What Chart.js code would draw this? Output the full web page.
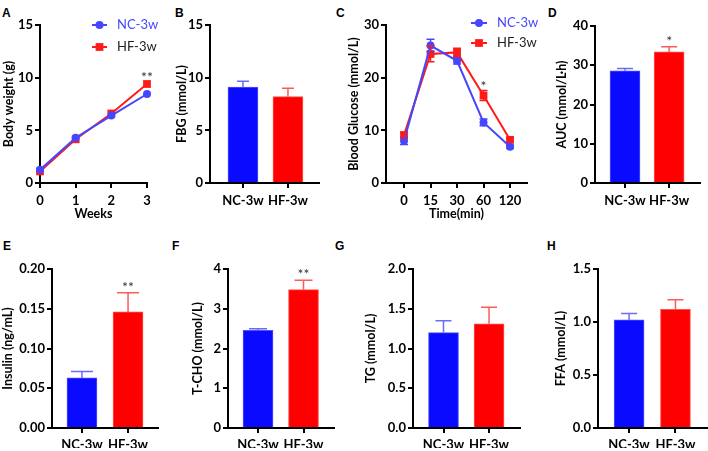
<!DOCTYPE html>
<html>
<head>
<meta charset="utf-8">
<script src="https://cdn.jsdelivr.net/npm/chart.js@4.4.1/dist/chart.umd.min.js"></script>
<style>
  html, body { margin: 0; padding: 0; background: #fff; }
  #wrap { position: relative; width: 708px; height: 451px; overflow: hidden; background: #fff; }
  #wrap canvas { position: absolute; left: 0; top: 0; }
  .lbl { position: absolute; font: bold 12px "Liberation Sans", Arial, sans-serif; line-height: 12px; color: #000; }
</style>
</head>
<body>
<div id="wrap">
  <div class="lbl" style="left:2px;top:7px">A</div>
  <div class="lbl" style="left:175px;top:7px">B</div>
  <div class="lbl" style="left:336px;top:7px">C</div>
  <div class="lbl" style="left:548px;top:7px">D</div>
  <div class="lbl" style="left:3px;top:240px">E</div>
  <div class="lbl" style="left:172px;top:240px">F</div>
  <div class="lbl" style="left:335px;top:240px">G</div>
  <div class="lbl" style="left:547px;top:240px">H</div>
</div>
<script>
// ---------------- DATA ----------------
const groups = ['NC-3w', 'HF-3w'];

// A: body weight
const weeks = [0, 1, 2, 3];
const bodyWeightNC = [1.25, 4.3, 6.4, 8.45];
const bodyWeightHF = [1.1, 4.15, 6.6, 9.4];
const bodyWeightSig = ['', '', '', '**'];

// B: fasting blood glucose
const fbg = [9.1, 8.2];
const fbgSD = [0.55, 0.8];
const fbgSig = ['', ''];

// C: OGTT
const ogttTimes = ['0', '15', '30', '60', '120'];
const glucoseNC = [8.0, 26.1, 23.2, 11.5, 6.9];
const glucoseNCsd = [0.7, 1.2, 0.6, 0.65, 0.3];
const glucoseHF = [9.1, 24.5, 24.8, 16.6, 8.2];
const glucoseHFsd = [0.5, 1.5, 0.8, 0.95, 0.35];
const glucoseSig = ['', '', '', '*', ''];

// D: AUC
const auc = [28.6, 33.4];
const aucSD = [0.6, 1.3];
const aucSig = ['', '*'];

// E: insulin
const insulin = [0.063, 0.146];
const insulinSD = [0.008, 0.024];
const insulinSig = ['', '**'];

// F: T-CHO
const tcho = [2.46, 3.48];
const tchoSD = [0.04, 0.24];
const tchoSig = ['', '**'];

// G: TG
const tg = [1.20, 1.31];
const tgSD = [0.15, 0.21];
const tgSig = ['', ''];

// H: FFA
const ffa = [1.02, 1.12];
const ffaSD = [0.06, 0.09];
const ffaSig = ['', ''];

// ---------------- STYLE ----------------
const FAMILY = 'Lato, "Open Sans", sans-serif';
const tickFont = { family: FAMILY, size: 13, weight: 'bold' };
const titleFont = { family: FAMILY, size: 12.5, weight: 'bold' };
const BLUE_LINE = '#4646ff';
const RED_LINE = '#ff1a1a';
const BLUE_BAR = '#0a0aff';
const RED_BAR = '#ff0000';
const BLUE_ERR = '#6b6bff';
const RED_ERR = '#ff5a5a';

const extrasPlugin = {
  id: 'extras',
  afterDatasetsDraw(chart, args, o) {
    if (!o) return;
    const ctx = chart.ctx, ys = chart.scales.y, area = chart.chartArea;
    ctx.save();
    (o.errors || []).forEach((e, di) => {
      if (!e) return;
      const ds = chart.data.datasets[di];
      const meta = chart.getDatasetMeta(di);
      meta.data.forEach((el, j) => {
        const v = ds.data[j].y, sd = e.sd[j];
        const col = Array.isArray(e.color) ? e.color[j] : e.color;
        const x = el.x;
        const yt = ys.getPixelForValue(v + sd);
        const yb = ys.getPixelForValue(e.both ? v - sd : v);
        const hw = e.cap / 2;
        ctx.strokeStyle = col;
        ctx.lineWidth = e.width || 1.5;
        ctx.beginPath();
        ctx.moveTo(x, yb); ctx.lineTo(x, yt);
        ctx.moveTo(x - hw, yt); ctx.lineTo(x + hw, yt);
        if (e.both) { ctx.moveTo(x - hw, yb); ctx.lineTo(x + hw, yb); }
        ctx.stroke();
      });
    });
    (o.sig || []).forEach((s, di) => {
      if (!s) return;
      const ds = chart.data.datasets[di];
      const meta = chart.getDatasetMeta(di);
      ctx.fillStyle = '#333';
      ctx.font = '14px ' + FAMILY;
      ctx.textAlign = 'center';
      ctx.textBaseline = 'alphabetic';
      s.labels.forEach((t, j) => {
        if (!t) return;
        const v = ds.data[j].y + (s.sd ? s.sd[j] : 0);
        const y = ys.getPixelForValue(v) - s.gap;
        ctx.fillText(t, meta.data[j].x, y);
      });
    });
    if (o.legend) {
      const L = o.legend;
      chart.data.datasets.forEach((ds, i) => {
        const x0 = area.left + L.dx, y = area.top + L.dy + i * L.gap;
        ctx.strokeStyle = ds.borderColor;
        ctx.lineWidth = 2;
        ctx.beginPath(); ctx.moveTo(x0, y); ctx.lineTo(x0 + L.len, y); ctx.stroke();
        const cx = x0 + L.len / 2;
        ctx.fillStyle = ds.backgroundColor;
        ctx.beginPath();
        if (ds.pointStyle === 'rect') {
          const h = ds.pointRadius * Math.SQRT1_2;
          ctx.rect(cx - h, y - h, 2 * h, 2 * h);
        } else {
          ctx.arc(cx, y, ds.pointRadius, 0, Math.PI * 2);
        }
        ctx.fill();
        ctx.fillStyle = L.textColors[i];
        ctx.font = L.font;
        ctx.textAlign = 'left';
        ctx.textBaseline = 'middle';
        ctx.fillText(ds.label, x0 + L.textDx, y);
      });
    }
    ctx.restore();
  }
};
Chart.register(extrasPlugin);

function axisCommon() {
  return {
    grid: { display: true, drawOnChartArea: false, drawTicks: true, tickLength: 5, color: '#000', lineWidth: 2, offset: false },
    border: { display: true, color: '#000', width: 2 }
  };
}

function makeOptions(p) {
  const yWidth = p.yTitleOffset + 7.5;
  const xHeight = p.xHeight;
  const c = axisCommon();
  return {
    responsive: false, animation: false, devicePixelRatio: 1,
    layout: { padding: { left: p.axisX - yWidth, right: 708 - p.right, top: p.top, bottom: 451 - p.bottom - xHeight } },
    plugins: { legend: { display: false }, tooltip: { enabled: false }, extras: p.extras },
    scales: {
      x: {
        type: 'linear', min: p.xMin, max: p.xMax, offset: false,
        afterBuildTicks: s => { s.ticks = p.xTickVals.map(v => ({ value: v })); },
        ticks: { color: '#000', font: tickFont, padding: p.xPad, autoSkip: false, maxRotation: 0, minRotation: 0,
                 callback: v => p.xLabel(v) },
        grid: c.grid, border: c.border,
        title: p.xTitle ? { display: true, text: p.xTitle, color: '#000', font: titleFont, padding: 0 } : { display: false },
        afterFit: s => { s.height = xHeight; }
      },
      y: {
        type: 'linear', min: 0, max: p.yMax,
        ticks: { stepSize: p.yStep, color: '#000', font: tickFont, padding: 2, callback: v => p.yFmt(v) },
        grid: c.grid, border: c.border,
        title: { display: true, text: p.yTitle, color: '#000', font: titleFont, padding: 0 },
        afterFit: s => { s.width = yWidth; }
      }
    }
  };
}

function addCanvas() {
  const cv = document.createElement('canvas');
  cv.width = 708; cv.height = 451;
  cv.style.width = '708px'; cv.style.height = '451px';
  document.getElementById('wrap').appendChild(cv);
  return cv;
}

function barPanel(p, values, sd, sig) {
  const opts = makeOptions(Object.assign({
    xMin: -0.67, xMax: 1.68, xTickVals: [0, 1], xLabel: v => groups[v],
    extras: {
      errors: [{ sd: sd, color: [BLUE_ERR, RED_ERR], cap: p.cap, both: false }],
      sig: [{ labels: sig, sd: sd, gap: 1 }]
    }
  }, p));
  new Chart(addCanvas(), {
    type: 'bar',
    data: {
      datasets: [{
        data: values.map((v, i) => ({ x: i, y: v })),
        backgroundColor: [BLUE_BAR, RED_BAR],
        borderColor: ['#5050ff', '#ff5050'],
        borderWidth: 1,
        barThickness: 30
      }]
    },
    options: opts
  });
}

function linePanel(p, xs, nc, hf) {
  const opts = makeOptions(p);
  const mk = (arr) => arr.map((v, i) => ({ x: xs[i], y: v }));
  new Chart(addCanvas(), {
    type: 'line',
    data: {
      datasets: [
        { label: groups[0], data: mk(nc), borderColor: BLUE_LINE, backgroundColor: BLUE_LINE,
          pointStyle: 'circle', pointRadius: 4, pointBorderWidth: 0, borderWidth: 2, tension: 0, clip: false },
        { label: groups[1], data: mk(hf), borderColor: RED_LINE, backgroundColor: RED_LINE,
          pointStyle: 'rect', pointRadius: 5.5, pointBorderWidth: 0, borderWidth: 2, tension: 0, clip: false }
      ]
    },
    options: opts
  });
}

const fmt0 = v => String(v);
const fmt1 = v => v.toFixed(1);
const fmt2 = v => v.toFixed(2);

// A
linePanel({
  axisX: 40, right: 147, top: 25, bottom: 183, xHeight: 38, xPad: 5,
  xMin: 0, xMax: 3, xTickVals: weeks, xLabel: v => String(v), xTitle: 'Weeks',
  yMax: 15, yStep: 5, yFmt: fmt0, yTitle: 'Body weight (g)', yTitleOffset: 31,
  extras: {
    sig: [null, { labels: bodyWeightSig, gap: 2 }],
    legend: { dx: 52, dy: 0, gap: 22, len: 15, textDx: 25, font: '13px ' + FAMILY, textColors: [BLUE_LINE, '#222'] }
  }
}, weeks, bodyWeightNC, bodyWeightHF);

// B
barPanel({ axisX: 210, right: 319, top: 25, bottom: 183, xHeight: 35, xPad: 5, xMin: -0.733, xMax: 1.69,
  yMax: 15, yStep: 5, yFmt: fmt0, yTitle: 'FBG (mmol/L)', yTitleOffset: 28, cap: 12 }, fbg, fbgSD, fbgSig);

// C
linePanel({
  axisX: 386, right: 527, top: 25, bottom: 183, xHeight: 38, xPad: 5,
  xMin: -0.68, xMax: 4.64, xTickVals: ogttTimes.map((t, i) => i), xLabel: v => ogttTimes[v], xTitle: 'Time(min)',
  yMax: 30, yStep: 10, yFmt: fmt0, yTitle: 'Blood Glucose (mmol/L)', yTitleOffset: 32,
  extras: {
    errors: [{ sd: glucoseNCsd, color: BLUE_LINE, cap: 8, both: true }, { sd: glucoseHFsd, color: RED_LINE, cap: 8, both: true }],
    sig: [null, { labels: glucoseSig, sd: glucoseHFsd, gap: 0 }],
    legend: { dx: 85, dy: -2, gap: 20, len: 16, textDx: 26, font: '13px ' + FAMILY, textColors: [BLUE_LINE, '#222'] }
  }
}, ogttTimes.map((t, i) => i), glucoseNC, glucoseHF);

// D
barPanel({ axisX: 595, right: 700, top: 26, bottom: 183, xHeight: 35, xPad: 5, xMin: -0.68, xMax: 1.70,
  yMax: 40, yStep: 10, yFmt: fmt0, yTitle: 'AUC (mmol/L·h)', yTitleOffset: 33, cap: 16 }, auc, aucSD, aucSig);

// E
barPanel({ axisX: 52, right: 158, top: 269, bottom: 428, xHeight: 20, xPad: 4, xMin: -0.65, xMax: 1.65,
  yMax: 0.2, yStep: 0.05, yFmt: fmt2, yTitle: 'Insulin (ng/mL)', yTitleOffset: 44, cap: 22 }, insulin, insulinSD, insulinSig);

// F
barPanel({ axisX: 228, right: 334, top: 269, bottom: 428, xHeight: 20, xPad: 4, xMin: -0.66, xMax: 1.67,
  yMax: 4, yStep: 1, yFmt: fmt0, yTitle: 'T-CHO (mmol/L)', yTitleOffset: 30, cap: 18 }, tcho, tchoSD, tchoSig);

// G
barPanel({ axisX: 413, right: 520, top: 269, bottom: 428, xHeight: 20, xPad: 4, xMin: -0.67, xMax: 1.68,
  yMax: 2, yStep: 0.5, yFmt: fmt1, yTitle: 'TG (mmol/L)', yTitleOffset: 42, cap: 16 }, tg, tgSD, tgSig);

// H
barPanel({ axisX: 598, right: 707, top: 269, bottom: 428, xHeight: 20, xPad: 4, xMin: -0.67, xMax: 1.68,
  yMax: 1.5, yStep: 0.5, yFmt: fmt1, yTitle: 'FFA (mmol/L)', yTitleOffset: 37, cap: 16 }, ffa, ffaSD, ffaSig);
</script>
</body>
</html>
